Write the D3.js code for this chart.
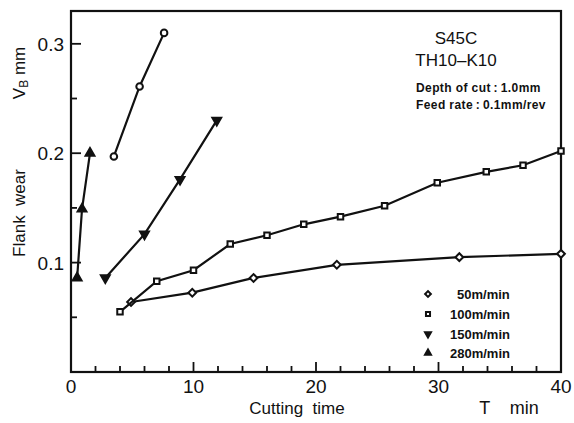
<!DOCTYPE html>
<html>
<head>
<meta charset="utf-8">
<script src="https://cdn.jsdelivr.net/npm/d3@7"></script>
<style>
  body { margin: 0; background: #fff; }
  text { fill: #111; white-space: pre; }
</style>
</head>
<body>
<script>
// cutting time (min) and flank wear VB (mm) for each cutting speed
var t50 = [4.9, 9.9, 14.9, 21.7, 31.7, 40];
var vb50 = [0.064, 0.0725, 0.086, 0.098, 0.105, 0.108];
var t100 = [4, 7, 10, 13, 16, 19, 22, 25.6, 29.9, 33.9, 36.9, 40];
var vb100 = [0.055, 0.083, 0.093, 0.117, 0.125, 0.135, 0.142, 0.152, 0.173, 0.183, 0.189, 0.202];
var t150 = [2.8, 6, 8.9, 11.9];
var vb150 = [0.086, 0.126, 0.176, 0.23];
var t280 = [0.5, 0.9, 1.55];
var vb280 = [0.086, 0.149, 0.2];
var tHigh = [3.5, 5.6, 7.6];
var vbHigh = [0.197, 0.261, 0.31];

var xTicks = [0, 10, 20, 30, 40];
var yTicks = [0.1, 0.2, 0.3];
var legendLabels = ["50m/min", "100m/min", "150m/min", "280m/min"];

var w = 574, h = 423;
var mLeft = 71, mRight = 561, mTop = 11, mBottom = 372;
var sans = "Liberation Sans, Arial, sans-serif";

var svg = d3.select("body").append("svg")
  .attr("width", w)
  .attr("height", h)
  .style("font-family", sans);

var x = d3.scaleLinear().domain([0, 40]).range([mLeft, mRight]);
var y = d3.scaleLinear().domain([0, 0.33]).range([mBottom, mTop]);

// frame
svg.append("rect")
  .attr("x", mLeft).attr("y", mTop)
  .attr("width", mRight - mLeft).attr("height", mBottom - mTop)
  .attr("fill", "none").attr("stroke", "#111").attr("stroke-width", 2.2);

// x ticks (pointing inward)
var xMinor = d3.range(2, 40, 2);
svg.selectAll(".xt")
  .data(xMinor)
  .enter().append("line")
  .attr("x1", d => x(d)).attr("x2", d => x(d))
  .attr("y1", mBottom)
  .attr("y2", d => mBottom - (d % 10 == 0 ? 10 : 6))
  .attr("stroke", "#111").attr("stroke-width", 1.8);

svg.selectAll(".xl")
  .data(xTicks)
  .enter().append("text")
  .attr("x", d => x(d))
  .attr("y", 393)
  .attr("text-anchor", "middle")
  .attr("font-size", 19)
  .text(d => d);

// y ticks
var yMinor = [0.05, 0.1, 0.15, 0.2, 0.25, 0.3];
svg.selectAll(".yt")
  .data(yMinor)
  .enter().append("line")
  .attr("x1", mLeft)
  .attr("x2", d => mLeft + (Math.round(d * 100) % 10 == 0 ? 10 : 6))
  .attr("y1", d => y(d)).attr("y2", d => y(d))
  .attr("stroke", "#111").attr("stroke-width", 1.8);

svg.selectAll(".yl")
  .data(yTicks)
  .enter().append("text")
  .attr("x", 64)
  .attr("y", d => y(d) + 7)
  .attr("text-anchor", "end")
  .attr("font-size", 19)
  .text(d => d.toFixed(1));

// axis titles
var vt = svg.append("text")
  .attr("transform", "translate(25,73) rotate(-90)")
  .attr("text-anchor", "middle")
  .attr("font-size", 17);
vt.append("tspan").text("V");
vt.append("tspan").attr("font-size", 12).attr("dy", 3).text("B");
vt.append("tspan").attr("dy", -3).text(" mm");

svg.append("text")
  .attr("transform", "translate(25,213) rotate(-90)")
  .attr("text-anchor", "middle")
  .attr("font-size", 17)
  .text("Flank  wear");

svg.append("text")
  .attr("x", 297).attr("y", 414)
  .attr("text-anchor", "middle")
  .attr("font-size", 17)
  .text("Cutting  time");

svg.append("text")
  .attr("x", 509).attr("y", 414)
  .attr("text-anchor", "middle")
  .attr("font-size", 18)
  .text("T    min");

// annotation
svg.append("text").attr("x", 456).attr("y", 44)
  .attr("text-anchor", "middle").attr("font-size", 17).text("S45C");
svg.append("text").attr("x", 456).attr("y", 66)
  .attr("text-anchor", "middle").attr("font-size", 17).text("TH10\u2013K10");
svg.append("text").attr("x", 416).attr("y", 92)
  .attr("font-size", 12).attr("font-weight", "bold").attr("letter-spacing", 0.4)
  .text("Depth of cut\u2009:\u20091.0mm");
svg.append("text").attr("x", 416).attr("y", 109)
  .attr("font-size", 12).attr("font-weight", "bold").attr("letter-spacing", 0.4)
  .text("Feed rate\u2009:\u20090.1mm/rev");

// series (diamonds are squares turned 45 degrees)
var series = [
  { t: t50, v: vb50, sym: d3.symbolSquare, size: 30, fill: "#fff", rot: 45 },
  { t: t100, v: vb100, sym: d3.symbolSquare, size: 30, fill: "#fff" },
  { t: t150, v: vb150, sym: d3.symbolTriangle, size: 34, fill: "#111", rot: 180 },
  { t: t280, v: vb280, sym: d3.symbolTriangle, size: 34, fill: "#111" },
  { t: tHigh, v: vbHigh, sym: d3.symbolCircle, size: 34, fill: "#fff" }
];

var line = d3.line()
  .x(d => x(d[0]))
  .y(d => y(d[1]));

series.forEach(function(s) {
  var pts = s.t.map((d, i) => [d, s.v[i]]);
  svg.append("path")
    .attr("d", line(pts))
    .attr("fill", "none")
    .attr("stroke", "#111")
    .attr("stroke-width", 2.2);
  svg.selectAll(null)
    .data(pts)
    .enter().append("path")
    .attr("d", d3.symbol().type(s.sym).size(s.size))
    .attr("transform", d => "translate(" + x(d[0]) + "," + y(d[1]) + ")" + (s.rot ? " rotate(" + s.rot + ")" : ""))
    .attr("fill", s.fill)
    .attr("stroke", "#111")
    .attr("stroke-width", 2);
});

// legend
var legendY = [294, 314, 334, 353];
legendLabels.forEach(function(lab, i) {
  var s = series[i];
  svg.append("path")
    .attr("d", d3.symbol().type(s.sym).size(s.size * (i < 2 ? 0.55 : 0.45)))
    .attr("transform", "translate(428," + legendY[i] + ")" + (s.rot ? " rotate(" + s.rot + ")" : ""))
    .attr("fill", i < 2 ? "#fff" : "#111")
    .attr("stroke", "#111")
    .attr("stroke-width", 2);
  svg.append("text")
    .attr("x", i == 0 ? 457 : 450)
    .attr("y", legendY[i] + 5)
    .attr("font-size", 13)
    .attr("font-weight", "bold")
    .text(lab);
});
</script>
</body>
</html>
